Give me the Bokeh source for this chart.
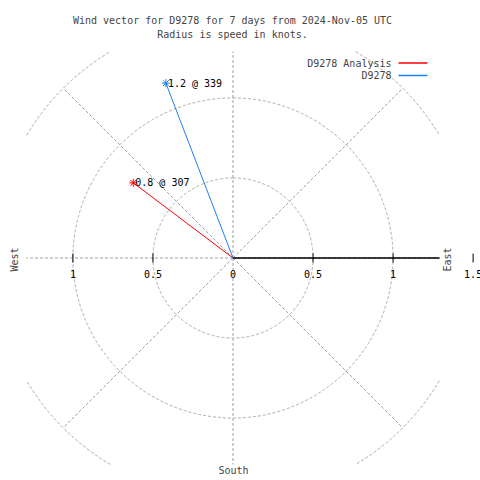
import numpy as np
from bokeh.plotting import figure
from bokeh.models import Range1d, Label, ColumnDataSource
from bokeh.core.properties import value
from bokeh.embed import file_html
from bokeh.resources import INLINE

# ---- data ----
series_names = ["D9278 Analysis", "D9278"]
speeds = [0.78, 1.17]          # knots
directions = [307, 339]        # degrees
series_colors = ["#ff0000", "#1e7ff0"]
ring_radii = [0.5, 1.0, 1.5]
spoke_angles = [0, 45, 90, 135, 180, 225, 270, 315]
tick_values = [-1.0, -0.5, 0.0, 0.5, 1.0, 1.5]
tick_labels = ["1", "0.5", "0", "0.5", "1", "1.5"]
title_lines = ["Wind vector for D9278 for 7 days from 2024-Nov-05 UTC",
               "Radius is speed in knots."]

FONT = "DejaVu Sans Mono"
FS = "10px"
GRID = "#a0a0a0"

# ---- layout (canvas pixels -> data) ----
W = H = 480
CX, CY = 232.5, 257.5          # plot centre in canvas pixels
SCALE = 160.08                 # pixels per knot
BOX = 1.29                     # half size of the clipped polar region (knots)

def px(xp):
    return (xp - CX) / SCALE

def py(yp):
    return (CY - yp) / SCALE

p = figure(width=W, height=H, output_backend="svg", toolbar_location=None,
           x_axis_type=None, y_axis_type=None,
           x_range=Range1d(px(0), px(W)), y_range=Range1d(py(H), py(0)),
           min_border=0, background_fill_color="white",
           border_fill_color="white")
p.outline_line_color = None
p.grid.visible = False

# rings, clipped to the square polar region
th = np.linspace(0, 2 * np.pi, 2881)
ring_xs, ring_ys = [], []
for r in ring_radii:
    x = r * np.sin(th)
    y = r * np.cos(th)
    out = (np.abs(x) > BOX) | (np.abs(y) > BOX)
    x[out] = np.nan
    y[out] = np.nan
    ring_xs.append(x)
    ring_ys.append(y)
for x, y in zip(ring_xs, ring_ys):
    p.line(x, y, line_color=GRID, line_width=1, line_dash="3 2")

# spokes, clipped
ang = np.radians(spoke_angles)
rmax = max(ring_radii)
sa, ca = np.sin(ang), np.cos(ang)
lim = np.minimum(rmax, BOX / np.maximum(np.abs(sa), np.abs(ca)))
p.segment(x0=np.zeros(len(ang)), y0=np.zeros(len(ang)),
          x1=lim * sa, y1=lim * ca,
          line_color=GRID, line_width=1, line_dash="3 2")

# speed axis (east)
p.segment(x0=[0], y0=[0], x1=[min(rmax, BOX)], y1=[0], line_color="black",
          line_width=1.6)
tk = [v for v in tick_values if v != 0]
tl = 4.5 / SCALE
p.segment(x0=tk, y0=[-tl] * len(tk), x1=tk, y1=[tl] * len(tk),
          line_color="black", line_width=1)
tsrc = ColumnDataSource(dict(x=tick_values, y=[-16 / SCALE] * len(tick_values),
                             t=tick_labels))
p.text("x", "y", text="t", source=tsrc, text_align="center",
       text_baseline="middle", text_font=value(FONT), text_font_size=FS,
       text_color="black")

# vectors
d = np.radians(directions)
xs = np.array(speeds) * np.sin(d)
ys = np.array(speeds) * np.cos(d)
src = ColumnDataSource(dict(x=xs, y=ys, c=series_colors,
                            lab=[f"{s:.1f} @ {a}" for s, a in zip(speeds, directions)]))
p.segment(x0=np.zeros(len(xs)), y0=np.zeros(len(xs)), x1=xs, y1=ys,
          line_color=series_colors, line_width=1)
p.scatter("x", "y", source=src, marker="asterisk", size=8, line_color="c",
          line_width=1)
p.text("x", "y", text="lab", source=src, x_offset=2, text_align="left",
       text_baseline="middle", text_font=value(FONT), text_font_size=FS,
       text_color="black")

# compass labels
p.add_layout(Label(x=px(14), y=py(259), text="West", angle=np.pi / 2,
                   text_align="center", text_baseline="middle",
                   text_font=FONT, text_font_size=FS))
p.add_layout(Label(x=px(447), y=py(259), text="East", angle=np.pi / 2,
                   text_align="center", text_baseline="middle",
                   text_font=FONT, text_font_size=FS))
p.add_layout(Label(x=px(233), y=py(470), text="South",
                   text_align="center", text_baseline="middle",
                   text_font=FONT, text_font_size=FS))

# title
for i, t in enumerate(title_lines):
    p.add_layout(Label(x=px(232), y=py(20 + 13.5 * i), text=t,
                       text_align="center", text_baseline="middle",
                       text_font=FONT, text_font_size=FS))

# legend (label left, line right)
for i, (n, c) in enumerate(zip(series_names, series_colors)):
    yy = py(62.5 + 12.5 * i)
    p.add_layout(Label(x=px(391), y=yy, text=n, text_align="right",
                       text_baseline="middle", text_font=FONT,
                       text_font_size=FS))
    p.segment(x0=[px(398)], y0=[yy], x1=[px(427)], y1=[yy],
              line_color=c, line_width=1.6)

open("out.html", "w").write(file_html(p, INLINE))
